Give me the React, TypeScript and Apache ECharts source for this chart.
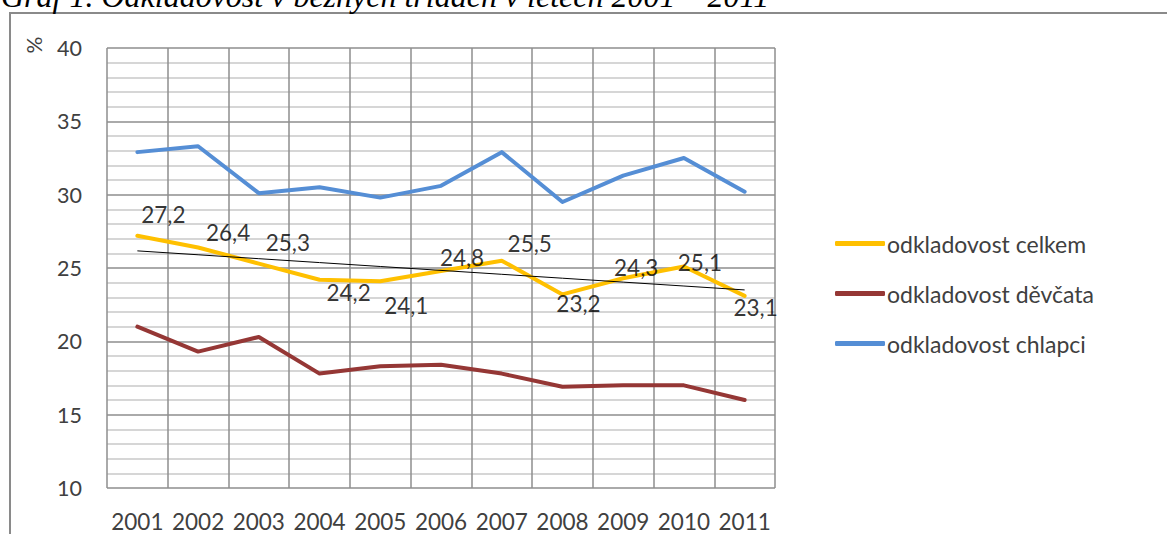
import React, { useEffect, useRef } from "react";
import * as echarts from "echarts";

const years = ["2001", "2002", "2003", "2004", "2005", "2006", "2007", "2008", "2009", "2010", "2011"];
const celkem = [27.2, 26.4, 25.3, 24.2, 24.1, 24.8, 25.5, 23.2, 24.3, 25.1, 23.1];
const devcata = [21.0, 19.3, 20.3, 17.8, 18.3, 18.4, 17.8, 16.9, 17.0, 17.0, 16.0];
const chlapci = [32.9, 33.3, 30.1, 30.5, 29.8, 30.6, 32.9, 29.5, 31.3, 32.5, 30.2];
const seriesNames = ["odkladovost celkem", "odkladovost děvčata", "odkladovost chlapci"];
const titleText = "Graf 1. Odkladovost v běžných třídách v letech 2001 – 2011";

// label placement offsets (style, px)
const labelOffsets = [
  [26, -21], [30, -15], [29, -21], [29, 13], [26, 24], [21, -13],
  [28, -17], [16, 9], [13, -11], [16, -4], [11, 12],
];

function linearTrend(vals: number[]): number[] {
  const n = vals.length;
  const mx = (n - 1) / 2;
  const my = vals.reduce((a, b) => a + b, 0) / n;
  let sxy = 0, sxx = 0;
  vals.forEach((v, i) => { sxy += (i - mx) * (v - my); sxx += (i - mx) * (i - mx); });
  const b = sxy / sxx;
  return vals.map((_, i) => +(my + b * (i - mx)).toFixed(3));
}

const FONT = "Lato";

export default function App() {
  const ref = useRef<HTMLDivElement>(null);
  useEffect(() => {
    if (!ref.current) return;
    const chart = echarts.init(ref.current, undefined, { renderer: "svg" });
    const trend = linearTrend(celkem);
    chart.setOption({
      animation: false,
      backgroundColor: "#ffffff",
      textStyle: { fontFamily: FONT },
      grid: { left: 107, top: 48, right: 392, bottom: 46, containLabel: false },
      legend: {
        data: seriesNames,
        orient: "vertical",
        left: 830,
        top: 227,
        icon: "roundRect",
        itemWidth: 50,
        itemHeight: 5,
        itemGap: 27,
        textStyle: { fontFamily: FONT, fontSize: 23, color: "#404040", padding: [0, 0, 0, -3] },
      },
      xAxis: {
        type: "category",
        data: years,
        boundaryGap: true,
        axisLine: { show: false },
        axisTick: { show: false },
        axisLabel: { fontFamily: FONT, fontSize: 22.5, color: "#404040", margin: 22, interval: 0 },
        splitLine: { show: true, interval: 0, lineStyle: { color: "#8e8e8e", width: 1.5 } },
      },
      yAxis: {
        type: "value",
        min: 10,
        max: 40,
        interval: 5,
        axisLine: { show: false },
        axisTick: { show: false },
        axisLabel: { fontFamily: FONT, fontSize: 21.5, color: "#404040", margin: 25 },
        splitLine: { show: true, lineStyle: { color: "#8e8e8e", width: 1.5 } },
        minorTick: { show: false, splitNumber: 5 },
        minorSplitLine: { show: true, lineStyle: { color: "#c8c8c8", width: 1.5 } },
      },
      graphic: [
        {
          type: "rect",
          shape: { x: 10, y: 13, width: 1300, height: 700 },
          style: { fill: "none", stroke: "#8a8a8a", lineWidth: 2 },
          silent: true,
        },
        {
          type: "text",
          x: 1,
          y: 12,
          style: {
            text: titleText,
            font: "italic 32px 'Liberation Serif'",
            fill: "#000",
            verticalAlign: "bottom",
          },
        },
        {
          type: "text",
          x: 33,
          y: 45,
          rotation: Math.PI / 2,
          style: {
            text: "%",
            font: `21px ${FONT}`,
            fill: "#404040",
            align: "center",
            verticalAlign: "middle",
          },
        },
      ],
      series: [
        {
          name: seriesNames[0],
          type: "line",
          data: celkem,
          symbol: "none",
          color: "#FFC000",
          lineStyle: { color: "#FFC000", width: 4, cap: "round", join: "round" },
          z: 4,
        },
        {
          name: seriesNames[1],
          type: "line",
          data: devcata,
          symbol: "none",
          color: "#953735",
          lineStyle: { color: "#953735", width: 4, cap: "round", join: "round" },
          z: 3,
        },
        {
          name: seriesNames[2],
          type: "line",
          data: chlapci,
          symbol: "none",
          color: "#558ED5",
          lineStyle: { color: "#558ED5", width: 4, cap: "round", join: "round" },
          z: 3,
        },
        {
          name: "trend",
          type: "line",
          data: trend,
          symbol: "none",
          lineStyle: { color: "#000000", width: 1 },
          z: 5,
          silent: true,
        },
        {
          name: "labels",
          type: "scatter",
          data: celkem.map((v, i) => ({
            value: v,
            label: { offset: labelOffsets[i] },
          })),
          symbolSize: 1,
          itemStyle: { color: "rgba(0,0,0,0)" },
          label: {
            show: true,
            position: "inside",
            fontFamily: FONT,
            fontSize: 22.5,
            color: "#000",
            formatter: (p: any) => String(p.value).replace(".", ","),
          },
          z: 6,
          silent: true,
        },
      ],
    });
    return () => chart.dispose();
  }, []);
  return (
    <div
      ref={ref}
      style={{ position: "fixed", left: 0, top: 0, width: 1167, height: 534 }}
    />
  );
}
